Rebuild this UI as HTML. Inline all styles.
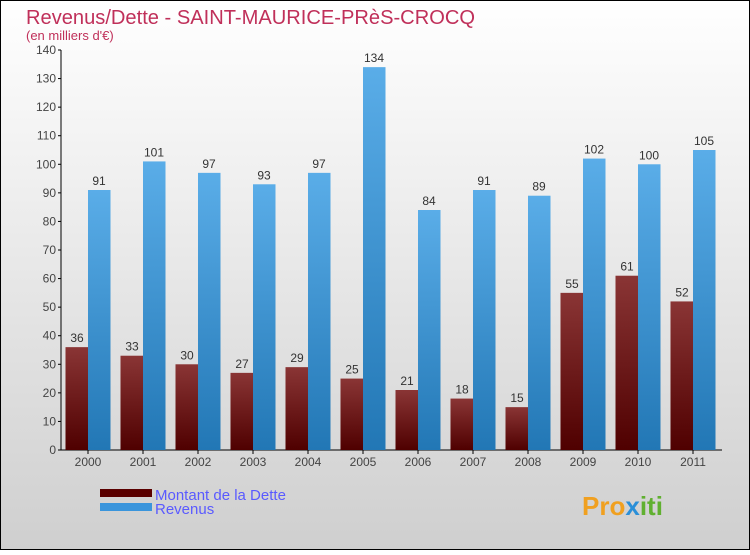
<!DOCTYPE html>
<html><head><meta charset="utf-8"><style>
body{margin:0;width:750px;height:550px;overflow:hidden;font-family:"Liberation Sans",sans-serif}
</style></head><body>
<svg width="750" height="550" xmlns="http://www.w3.org/2000/svg">
<defs>
<linearGradient id="bg" x1="0" y1="0" x2="0" y2="1"><stop offset="0" stop-color="#ffffff"/><stop offset="1" stop-color="#cfcfcf"/></linearGradient>
<linearGradient id="gd" x1="0" y1="0" x2="0" y2="1"><stop offset="0" stop-color="#8a3535"/><stop offset="1" stop-color="#4f0000"/></linearGradient>
<linearGradient id="gr" x1="0" y1="0" x2="0" y2="1"><stop offset="0" stop-color="#5aade8"/><stop offset="1" stop-color="#2277b5"/></linearGradient>
</defs>
<rect x="0.5" y="0.5" width="749" height="549" fill="url(#bg)" stroke="#000"/>
<text x="26" y="24" font-size="20" fill="#c0305a" textLength="449" lengthAdjust="spacingAndGlyphs">Revenus/Dette - SAINT-MAURICE-PRèS-CROCQ</text>
<text x="26" y="40" font-size="13" fill="#c0305a">(en milliers d'€)</text>
<g id="axes"></g>
<g id="bars"></g>
<g>
<rect x="100" y="489" width="52" height="8" fill="#5a0000"/>
<text x="155" y="500" font-size="15" fill="#5a5aff">Montant de la Dette</text>
<rect x="100" y="503" width="52" height="8" fill="#3a95dc"/>
<text x="155" y="514" font-size="15" fill="#5a5aff">Revenus</text>
</g>
<text x="582" y="515" font-size="26" font-weight="bold" fill="#f0a020">Pro<tspan fill="#2a8fd8">x</tspan><tspan fill="#60b030">iti</tspan></text>
</svg>
<script>
const years=["2000","2001","2002","2003","2004","2005","2006","2007","2008","2009","2010","2011"];
const dette=[36,33,30,27,29,25,21,18,15,55,61,52];
const revenus=[91,101,97,93,97,134,84,91,89,102,100,105];
const yTicks=[0,10,20,30,40,50,60,70,80,90,100,110,120,130,140];
const NS="http://www.w3.org/2000/svg";
const y0=450,yTop=50,yMax=140;
function y(v){return y0-(v/yMax)*(y0-yTop);}
function xc(i){return 88+i*55;}
function mk(t,a,p){const e=document.createElementNS(NS,t);for(const k in a)e.setAttribute(k,a[k]);p.appendChild(e);return e;}
const ax=document.getElementById('axes'),bg=document.getElementById('bars');
const yl=mk('line',{x1:61,y1:yTop,x2:61,y2:y0,stroke:'#000'},ax);


const xl=mk('line',{x1:61,y1:y0,x2:722,y2:y0,stroke:'#000'},ax);


yTicks.forEach(v=>{
 mk('line',{x1:58,y1:y(v),x2:61,y2:y(v),stroke:'#000'},ax);
 const t=mk('text',{x:56,y:y(v)+4,'font-size':12,fill:'#444','text-anchor':'end'},ax);t.textContent=v;
 
 
});
years.forEach((yr,i)=>{
 const c=xc(i);
 mk('line',{x1:c,y1:y0,x2:c,y2:y0+4,stroke:'#000'},ax);
 const t=mk('text',{x:c,y:y0+16,'font-size':12,fill:'#444','text-anchor':'middle'},ax);t.textContent=yr;
 
 
 const b1=mk('rect',{x:c-22.5,y:y(dette[i]),width:22.5,height:y0-y(dette[i]),fill:'url(#gd)'},bg);
 
 
 const l1=mk('text',{x:c-11,y:y(dette[i])-5,'font-size':12,fill:'#333','text-anchor':'middle'},bg);l1.textContent=dette[i];
 
 
 const b2=mk('rect',{x:c,y:y(revenus[i]),width:22.5,height:y0-y(revenus[i]),fill:'url(#gr)'},bg);
 
 
 const l2=mk('text',{x:c+11,y:y(revenus[i])-5,'font-size':12,fill:'#333','text-anchor':'middle'},bg);l2.textContent=revenus[i];
 
 
});
</script>
</body></html>
